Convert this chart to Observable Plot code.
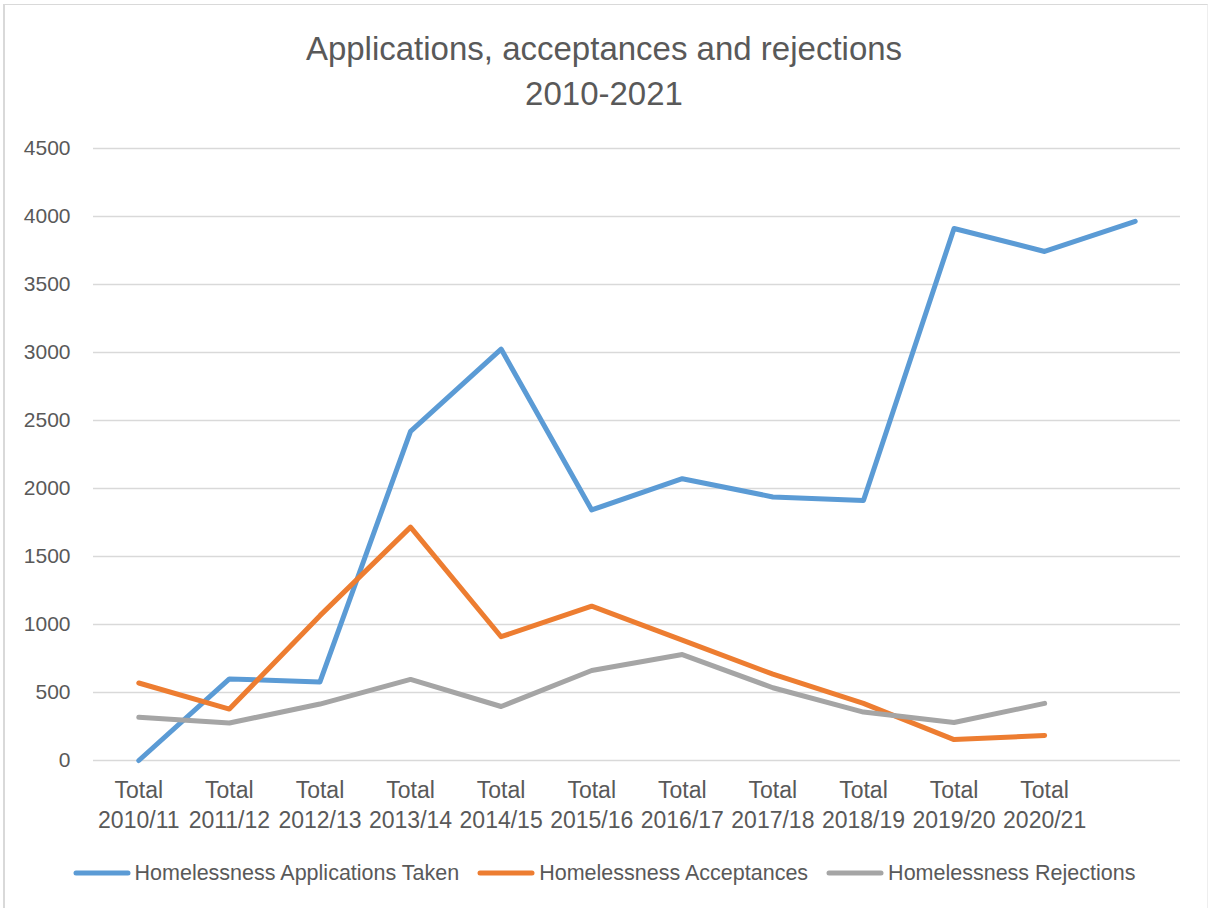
<!DOCTYPE html>
<html>
<head>
<meta charset="utf-8">
<script src="https://cdn.jsdelivr.net/npm/d3@7"></script>
<script src="https://cdn.jsdelivr.net/npm/@observablehq/plot@0.6"></script>
<style>
  html, body { margin: 0; padding: 0; background: #fff; }
  #wrap { position: relative; width: 1208px; height: 908px; overflow: hidden; font-family: "Liberation Sans", Arial, sans-serif; color: #595959; }
  #frame { position: absolute; left: 3px; top: 4px; width: 1202px; height: 910px; border-left: 2px solid #d9d9d9; border-top: 1px solid #d9d9d9; border-right: 1px solid #eeeeee; }
  #title { position: absolute; left: 0; top: 26px; width: 1208px; text-align: center; font-size: 33px; line-height: 45px; color: #595959; }
  #chart { position: absolute; left: 0; top: 130px; }
  #legend { position: absolute; left: 0; top: 860px; width: 1208px; display: flex; justify-content: center; align-items: center; font-size: 21.5px; line-height: 26px; color: #595959; }
  .item { display: flex; align-items: center; margin: 0 9px; }
  .item svg { margin-right: 4px; }
</style>
</head>
<body>
<div id="wrap">
  <div id="frame"></div>
  <div id="title">Applications, acceptances and rejections<br>2010-2021</div>
  <div id="chart"></div>
  <div id="legend"></div>
</div>
<script>
// Category labels (12th position is unlabeled in the original)
const categories = ["2010/11", "2011/12", "2012/13", "2013/14", "2014/15", "2015/16",
                    "2016/17", "2017/18", "2018/19", "2019/20", "2020/21", ""];
const applications = [0, 600, 578, 2420, 3025, 1842, 2072, 1938, 1912, 3912, 3743, 3965];
const acceptances  = [570, 378, 1065, 1716, 910, 1135, 885, 635, 420, 154, 184];
const rejections   = [318, 276, 415, 596, 397, 662, 779, 535, 356, 279, 420];
const seriesNames  = ["Homelessness Applications Taken", "Homelessness Acceptances", "Homelessness Rejections"];
const seriesColors = ["#5b9bd5", "#ed7d31", "#a5a5a5"];
const yTicks = [0, 500, 1000, 1500, 2000, 2500, 3000, 3500, 4000, 4500];

const seriesValues = [applications, acceptances, rejections];
const rows = [];
seriesValues.forEach((vals, s) => vals.forEach((v, i) => rows.push({i, v, series: seriesNames[s]})));

const plot = Plot.plot({
  width: 1208,
  height: 715,
  marginLeft: 93,
  marginRight: 28,
  marginTop: 18,
  marginBottom: 85,
  style: {fontFamily: "'Liberation Sans', Arial, sans-serif", fontSize: "21px", color: "#595959", background: "transparent"},
  x: {type: "point", domain: d3.range(categories.length), padding: 0.5, round: false},
  y: {domain: [0, 4500]},
  color: {domain: seriesNames, range: seriesColors},
  marks: [
    Plot.ruleY(yTicks, {stroke: "#d9d9d9", strokeWidth: 1.4}),
    Plot.axisY({ticks: yTicks, tickSize: 0, tickPadding: 23, fontSize: 21, label: null, tickFormat: d => String(d)}),
    Plot.axisX({tickSize: 0, tickPadding: 16, fontSize: 23, lineHeight: 1.3, label: null,
                tickFormat: i => categories[i] ? "Total\n" + categories[i] : ""}),
    Plot.line(rows, {x: "i", y: "v", z: "series", stroke: "series", strokeWidth: 5,
                     strokeLinecap: "round", strokeLinejoin: "round"})
  ]
});
document.getElementById("chart").appendChild(plot);

const legend = document.getElementById("legend");
seriesNames.forEach((name, s) => {
  const item = document.createElement("div");
  item.className = "item";
  item.innerHTML = `<svg width="58" height="12"><line x1="3" y1="6" x2="55" y2="6" stroke="${seriesColors[s]}" stroke-width="5" stroke-linecap="round"/></svg><span>${name}</span>`;
  legend.appendChild(item);
});
</script>
</body>
</html>
